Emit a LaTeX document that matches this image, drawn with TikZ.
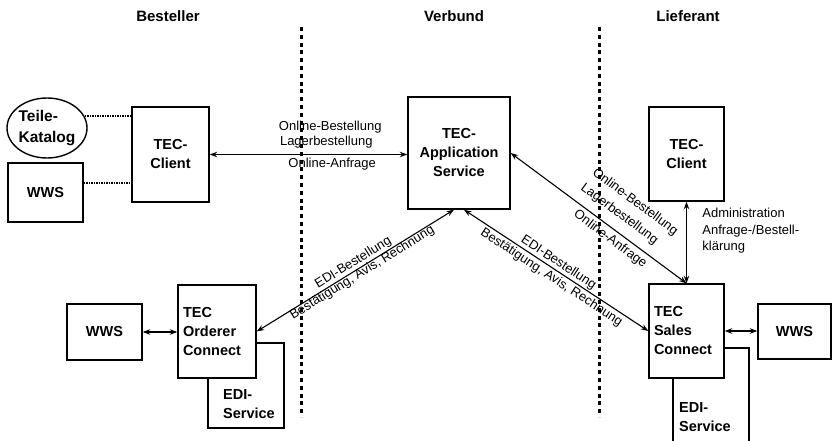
\documentclass[tikz,border=0pt]{standalone}
\usepackage{fontspec}
\setmainfont{Liberation Sans}
\usetikzlibrary{arrows.meta,positioning,shapes.geometric}
\begin{document}
\begin{tikzpicture}[x=1pt,y=-1pt,>={Stealth[length=7.5pt,width=5.5pt]},font=\fontsize{13}{14}\selectfont]
\tikzstyle{box}=[draw,line width=1.4pt,fill=white,inner sep=0pt,align=center,font=\fontsize{14.5}{19}\selectfont\bfseries]
\tikzstyle{boxtext}=[inner sep=0pt,anchor=west,align=left,font=\fontsize{14.5}{19}\selectfont\bfseries]
\tikzstyle{head}=[font=\fontsize{15}{18}\selectfont\bfseries]
\tikzstyle{sep}=[line width=3pt,dash pattern=on 4pt off 3.8pt]
\tikzstyle{link}=[line width=2pt,dash pattern=on 1.4pt off 1.1pt]
\tikzstyle{flow}=[<->,line width=1.1pt]
\tikzstyle{msg}=[inner sep=1pt,sloped]
\useasboundingbox (0,0) rectangle (832,441);
\node[head] (hBest) at (168,16) {Besteller};
\node[head] (hVerb) at (454,16) {Verbund};
\node[head] (hLief) at (688,16) {Lieferant};
\draw[sep] (301,27) -- (301,417);
\draw[sep] (599,27) -- (599,417);
\node[box,ellipse,inner sep=-4pt,minimum width=80pt,minimum height=60pt,align=left,font=\fontsize{15.5}{21}\selectfont\bfseries] (katalog) at (47,128) {Teile-\\Katalog};
\node[box,minimum width=75pt,minimum height=59pt] (wwsTop) at (45.5,192.5) {WWS};
\node[box,minimum width=77pt,minimum height=95pt] (clientBest) at (170.5,154.5) {TEC-\\Client};
\node[box,minimum width=102pt,minimum height=112pt] (appService) at (459,153) {TEC-\\Application\\Service};
\node[box,minimum width=75pt,minimum height=94pt] (clientLief) at (686.5,154) {TEC-\\Client};
\node[box,minimum width=75pt,minimum height=56pt] (wwsOrd) at (104.5,332) {WWS};
\node[box,minimum width=76pt,minimum height=85pt] (ediBest) at (246,385.5) {};
\node[boxtext] (ediBestText) at (223,404) {EDI-\\Service};
\node[box,minimum width=78pt,minimum height=93pt,text width=68pt,align=left] (ordererConn) at (217,331.5) {TEC\\Orderer\\Connect};
\node[box,minimum width=76pt,minimum height=98pt] (ediLief) at (711,397) {};
\node[boxtext] (ediLiefText) at (679,417) {EDI-\\Service};
\node[box,minimum width=75pt,minimum height=94pt,text width=65pt,align=left] (salesConn) at (686.5,331) {TEC\\Sales\\Connect};
\node[box,minimum width=73pt,minimum height=55pt] (wwsLief) at (794.5,331.5) {WWS};
\draw[link] (katalog.17) -- (katalog.17 -| clientBest.west);
\draw[link] ([yshift=10pt]wwsTop.east) -- ([yshift=10pt]wwsTop.east -| clientBest.west);
\draw[flow] (clientBest.east) -- (clientBest.east -| appService.west)
  node[msg,above=19.5pt,pos=0.61] {Online-Bestellung}
  node[msg,above=5pt,pos=0.59] {Lagerbestellung}
  node[msg,below=2pt,pos=0.62] {Online-Anfrage};
\draw[flow] (appService.east) -- (salesConn.north)
  node[msg,above=27pt,pos=0.59] {Online-Bestellung}
  node[msg,above=8pt,pos=0.565] {Lagerbestellung}
  node[msg,below=2.5pt,pos=0.6] {Online-Anfrage};
\draw[flow] (clientLief.south) -- (salesConn.north)
  node[right=12pt,pos=0.36,align=left,font=\fontsize{13}{16.5}\selectfont] {Administration\\Anfrage-/Bestell-\\klärung};
\draw[flow] (appService.-95) -- (ordererConn.east)
  node[msg,above,pos=0.49] {EDI-Bestellung}
  node[msg,below=-2pt,pos=0.48] {Bestätigung, Avis, Rechnung};
\draw[flow] (appService.-85) -- (salesConn.west)
  node[msg,above,pos=0.49] {EDI-Bestellung}
  node[msg,below=1pt,pos=0.5] {Bestätigung, Avis, Rechnung};
\draw[flow] (wwsOrd.east) -- (wwsOrd.east -| ordererConn.west);
\draw[flow] (salesConn.east) -- (salesConn.east -| wwsLief.west);
\end{tikzpicture}
\end{document}
